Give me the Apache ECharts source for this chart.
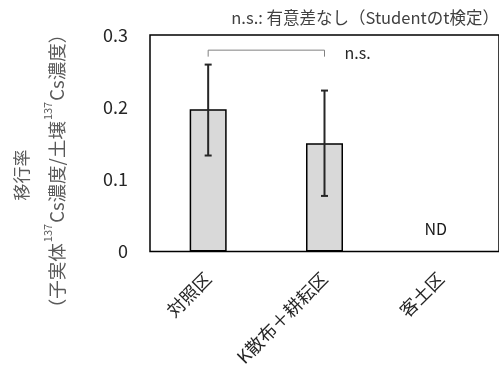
<!DOCTYPE html>
<html><head><meta charset="utf-8">
<script src="https://cdn.jsdelivr.net/npm/echarts@6/dist/echarts.min.js"></script>
<style>html,body{margin:0;padding:0;background:#fff}#c{width:499px;height:374px}</style>
</head><body><div id="c"></div>
<script>
const categories = ['対照区', 'K散布＋耕耘区', '客土区'];
const means = [0.197, 0.150, null];
const errLow = [0.133, 0.077, null];
const errHigh = [0.259, 0.223, null];
const yTicks = [0, 0.1, 0.2, 0.3];
const ndLabel = ['', '', 'ND'];
const bracketPair = [0, 1];
const bracketY = [0.270, 0.279];

const font = '"Noto Sans CJK JP", "Noto Sans", sans-serif';
const chart = echarts.init(document.getElementById('c'));

const errData = categories.map((c, i) => [i, errLow[i], errHigh[i]]).filter(d => d[1] != null);
const bracketData = [[bracketPair[0], bracketY[0]], [bracketPair[0], bracketY[1]], [bracketPair[1], bracketY[1]], [bracketPair[1], bracketY[0]]];

chart.setOption({
  animation: false,
  grid: { left: 150, top: 35, width: 351, bottom: 122.5, show: true, borderColor: '#000', borderWidth: 1.5, backgroundColor: 'transparent' },
  title: {
    text: 'n.s.: 有意差なし（Studentのt検定）',
    right: 0, top: 9, padding: 0,
    textStyle: { fontFamily: font, fontSize: 16.5, fontWeight: 'normal', color: '#404040' }
  },
  xAxis: {
    type: 'category', data: categories,
    axisLine: { show: false }, axisTick: { show: false },
    axisLabel: { rotate: 45, margin: 24, fontFamily: font, fontSize: 18, color: '#262626' }
  },
  yAxis: {
    type: 'value', min: 0, max: 0.3, interval: 0.1,
    axisLine: { show: false }, axisTick: { show: false }, splitLine: { show: false },
    axisLabel: { margin: 22, fontFamily: font, fontSize: 18, color: '#262626',
      formatter: v => { const t = yTicks.find(x => Math.abs(x - v) < 1e-9); return t === 0 ? '0' : String(t); } }
  },
  graphic: [{
    type: 'text', x: 22, y: 175, rotation: Math.PI / 2, silent: true,
    style: { text: '移行率', align: 'center', verticalAlign: 'middle', font: '17px ' + font, fill: '#595959' }
  }, {
    type: 'text', x: 54, y: 171, rotation: Math.PI / 2, silent: true,
    style: {
      text: '{a|（子実体}{s|137}{a|Cs濃度/土壌}{s|137}{a|Cs濃度）}',
      align: 'center', verticalAlign: 'middle',
      rich: {
        a: { fontFamily: font, fontSize: 18.5, fill: '#595959', lineHeight: 24, verticalAlign: 'bottom' },
        s: { fontFamily: font, fontSize: 11, fill: '#595959', lineHeight: 24, verticalAlign: 'top', padding: [0, 1, 0, 1] }
      }
    }
  }],
  series: [
    {
      type: 'bar', data: means, barWidth: 37,
      itemStyle: { color: '#d9d9d9', borderColor: '#000', borderWidth: 1.5 }
    },
    {
      type: 'custom', data: errData, z: 5,
      renderItem: (params, api) => {
        const lo = api.coord([api.value(0), api.value(1)]);
        const hi = api.coord([api.value(0), api.value(2)]);
        const w = 3.5;
        const st = { stroke: '#262626', lineWidth: 2 };
        return { type: 'group', children: [
          { type: 'line', shape: { x1: lo[0], y1: lo[1], x2: hi[0], y2: hi[1] }, style: st },
          { type: 'line', shape: { x1: lo[0] - w, y1: lo[1], x2: lo[0] + w, y2: lo[1] }, style: st },
          { type: 'line', shape: { x1: hi[0] - w, y1: hi[1], x2: hi[0] + w, y2: hi[1] }, style: st }
        ]};
      }
    },
    {
      type: 'line', data: bracketData, symbol: 'none', silent: true,
      lineStyle: { color: '#808080', width: 1 },
      endLabel: { show: true, formatter: 'n.s.', offset: [12, -4], fontFamily: font, fontSize: 16, color: '#262626' }
    },
    {
      type: 'scatter', symbolSize: 0, silent: true,
      itemStyle: { opacity: 1 },
      data: categories.map((c, i) => ndLabel[i] ? [i, 0.031] : null).filter(Boolean),
      label: { show: true, position: 'inside', offset: [-5, 0], formatter: p => ndLabel[p.data[0]], fontFamily: font, fontSize: 16, color: '#1a1a1a' }
    }
  ]
});
</script></body></html>
